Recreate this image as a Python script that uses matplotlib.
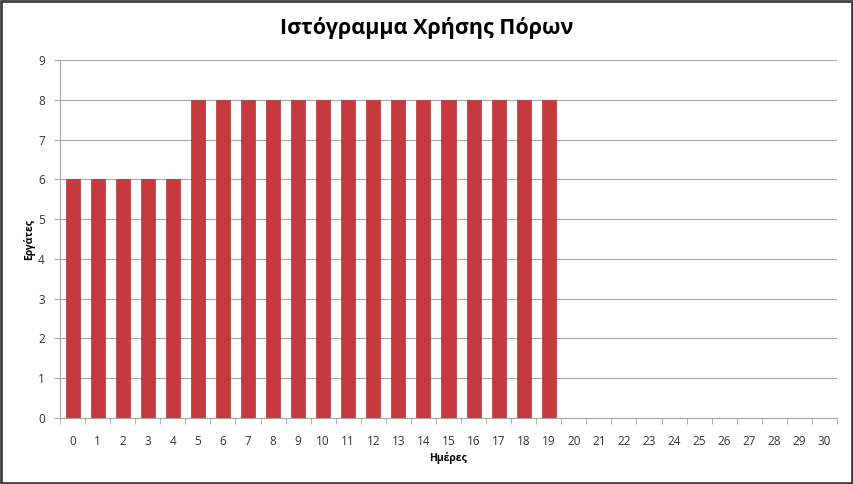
import matplotlib

matplotlib.use("Agg")
import matplotlib.pyplot as plt
from matplotlib.patches import Rectangle

plt.rcParams["font.family"] = ["Open Sans", "DejaVu Sans"]

days = list(range(31))
workers = [6] * 5 + [8] * 15 + [0] * 11

TITLE = "Ιστόγραμμα Χρήσης Πόρων"
Y_LABEL = "Εργάτες"
X_LABEL = "Ημέρες"

BAR_COLOR = "#C43A3E"
GRID_COLOR = "#A6A6A6"

W, H = 854, 484
fig = plt.figure(figsize=(W / 100, H / 100), dpi=100)
ax = fig.add_axes([60 / W, 1 - 418 / H, (837 - 60) / W, (418 - 60) / H])

ax.bar(days, workers, width=0.56, color=BAR_COLOR, edgecolor="#B83236", linewidth=0.5, zorder=3)

ax.set_xlim(-0.5, len(days) - 0.5)
ax.set_ylim(0, 9)
ax.set_yticks(range(10))
ax.set_xticks(days)
ax.set_xticklabels([str(d) for d in days], fontsize=8.5, color="#333333")
ax.set_xticks([d - 0.5 for d in days] + [len(days) - 0.5], minor=True)
ax.tick_params(axis="x", which="major", length=0, pad=12)
ax.tick_params(axis="x", which="minor", length=4, color=GRID_COLOR, direction="out")
ax.tick_params(axis="y", labelsize=8.5, labelcolor="#333333", length=4, color=GRID_COLOR, pad=7)

ax.grid(axis="y", color=GRID_COLOR, linewidth=0.8, zorder=0)
for side in ("top", "right"):
    ax.spines[side].set_visible(False)
for side in ("left", "bottom"):
    ax.spines[side].set_color(GRID_COLOR)
    ax.spines[side].set_linewidth(0.8)

fig.text(0.5, 1 - 28 / H, TITLE, ha="center", va="center", fontsize=15.5, fontweight="bold")
fig.text(29 / W, 1 - 240 / H, Y_LABEL, ha="center", va="center", rotation=90,
         fontsize=7.5, fontweight="bold")
fig.text((60 + 837) / 2 / W, 1 - 458 / H, X_LABEL, ha="center", va="center",
         fontsize=7.5, fontweight="bold")

# dark frame around the whole chart area
fig.patches.append(Rectangle((0.001, 0.002), 0.997, 0.995, transform=fig.transFigure,
                             fill=False, edgecolor="#404040", linewidth=2))

fig.savefig("out.png", dpi=100)
